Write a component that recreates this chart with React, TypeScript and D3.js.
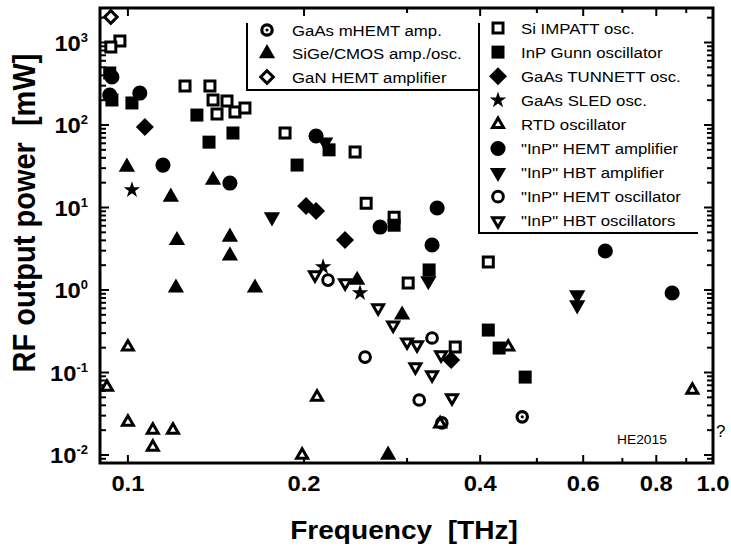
import React from "react";
import * as d3 from "d3";

const W = 731;
const H = 546;

// [frequency THz, power mW]
const gaasMhemtAmp = [[0.344, 0.0245], [0.472, 0.029]];
const sigeCmos = [[0.0996, 31], [0.1184, 13.4], [0.1213, 4.0], [0.1208, 1.06], [0.1398, 21.5], [0.1494, 4.4], [0.1494, 2.6], [0.1649, 1.06], [0.2465, 1.32], [0.2942, 0.5], [0.2784, 0.01]];
const ganHemtAmp = [[0.0935, 2040]];
const siImpatt = [[0.0969, 1043], [0.0935, 882], [0.1252, 297], [0.1381, 297], [0.1398, 201], [0.1477, 195], [0.142, 136], [0.1524, 144], [0.1585, 161], [0.1856, 80], [0.2445, 47], [0.2554, 11.3], [0.2851, 7.6], [0.3013, 1.22], [0.3626, 0.204], [0.413, 2.18]];
const inpGunn = [[0.0931, 427], [0.0939, 201], [0.1016, 185], [0.1312, 132], [0.1376, 62], [0.1512, 80], [0.1946, 32.7], [0.2207, 50], [0.2851, 6.1], [0.3272, 1.75], [0.413, 0.327], [0.431, 0.198], [0.4775, 0.088]];
const gaasTunnett = [[0.1069, 94.6], [0.2016, 10.4], [0.2097, 9.1], [0.235, 4.04], [0.3569, 0.142]];
const gaasSled = [[0.1016, 16.3], [0.2156, 1.9], [0.2493, 0.92]];
const rtdOsc = [[0.0921, 0.0667], [0.1, 0.204], [0.1, 0.0251], [0.1103, 0.0201], [0.1103, 0.0125], [0.1194, 0.0201], [0.1985, 0.01], [0.2105, 0.0505], [0.3417, 0.0238], [0.4467, 0.204], [0.922, 0.0614]];
const inpHemtAmp = [[0.0939, 382], [0.0931, 231], [0.1048, 244], [0.1148, 32.7], [0.1494, 19.8], [0.2097, 73.6], [0.2698, 5.8], [0.3377, 9.86], [0.331, 3.51], [0.6545, 2.97], [0.8515, 0.92]];
const inpHbtAmp = [[0.1763, 7.67], [0.2173, 62], [0.3262, 1.29], [0.586, 0.87], [0.586, 0.658]];
const inpHemtOsc = [[0.2198, 1.32], [0.2543, 0.154], [0.331, 0.262], [0.3147, 0.0464]];
const inpHbtOsc = [[0.2088, 1.52], [0.2351, 1.22], [0.2677, 0.605], [0.284, 0.376], [0.3, 0.234], [0.312, 0.216], [0.31, 0.117], [0.331, 0.0933], [0.343, 0.163], [0.358, 0.0491]];

const legendLeft = ["GaAs mHEMT amp.", "SiGe/CMOS amp./osc.", "GaN HEMT amplifier"];
const legendRight = ["Si IMPATT osc.", "InP Gunn oscillator", "GaAs TUNNETT osc.", "GaAs SLED osc.", "RTD oscillator", "\"InP\" HEMT amplifier", "\"InP\" HBT amplifier", "\"InP\" HEMT oscillator", "\"InP\" HBT oscillators"];

const xTicksMajor = [0.1, 0.2, 0.4, 0.6, 0.8, 1.0];
const xTickLabels = ["0.1", "0.2", "0.4", "0.6", "0.8", "1.0"];
const xTicksMinor = [0.3, 0.5, 0.7, 0.9];
const yExponents = [-2, -1, 0, 1, 2, 3];

const series = [
  { name: legendLeft[0], data: gaasMhemtAmp, kind: "bullseye" },
  { name: legendLeft[1], data: sigeCmos, kind: "triangle" },
  { name: legendLeft[2], data: ganHemtAmp, kind: "openDiamond" },
  { name: legendRight[0], data: siImpatt, kind: "openSquare" },
  { name: legendRight[1], data: inpGunn, kind: "square" },
  { name: legendRight[2], data: gaasTunnett, kind: "diamond" },
  { name: legendRight[3], data: gaasSled, kind: "star" },
  { name: legendRight[4], data: rtdOsc, kind: "openTriangle" },
  { name: legendRight[5], data: inpHemtAmp, kind: "circle" },
  { name: legendRight[6], data: inpHbtAmp, kind: "down" },
  { name: legendRight[7], data: inpHemtOsc, kind: "openCircle" },
  { name: legendRight[8], data: inpHbtOsc, kind: "openDown" },
];

const diamond = (r: number) => `M0,${-r}L${r},0L0,${r}L${-r},0Z`;

function Marker({ kind, x, y }: { kind: string; x: number; y: number }) {
  const t = `translate(${x},${y})`;
  const open = { fill: "#fff", stroke: "#000", strokeWidth: 3 };
  switch (kind) {
    case "square":
      return <path transform={t} d={d3.symbol(d3.symbolSquare, 169)()!} fill="#000" />;
    case "openSquare":
      return <path transform={t} d={d3.symbol(d3.symbolSquare, 100)()!} {...open} />;
    case "circle":
      return <path transform={t} d={d3.symbol(d3.symbolCircle, 180)()!} fill="#000" />;
    case "openCircle":
      return <path transform={t} d={d3.symbol(d3.symbolCircle, 90)()!} {...open} />;
    case "bullseye":
      return (
        <g transform={t}>
          <circle r={5.2} {...open} strokeWidth={3.2} />
          <circle r={1.6} fill="#000" />
        </g>
      );
    case "triangle":
      return <path transform={t} d={d3.symbol(d3.symbolTriangle, 115)()!} fill="#000" />;
    case "openTriangle":
      return <path transform={t} d={d3.symbol(d3.symbolTriangle, 52)()!} {...open} />;
    case "down":
      return <path transform={`${t} rotate(180)`} d={d3.symbol(d3.symbolTriangle, 115)()!} fill="#000" />;
    case "openDown":
      return <path transform={`${t} rotate(180)`} d={d3.symbol(d3.symbolTriangle, 52)()!} {...open} />;
    case "diamond":
      return <path transform={t} d={diamond(9)} fill="#000" />;
    case "openDiamond":
      return <path transform={t} d={diamond(6.3)} {...open} />;
    case "star":
      return <path transform={t} d={d3.symbol(d3.symbolStar, 85)()!} fill="#000" />;
  }
  return null;
}

export default function App() {
  const x = d3.scaleLog().domain([0.0896, 1.0]).range([100, 713]);
  const y = d3.scaleLog().domain([0.008, 2620]).range([463, 8]);
  const [x0, x1] = x.range();
  const [y0, y1] = y.range();

  const yMinor: number[] = [];
  for (let e = -3; e <= 3; e++) {
    for (let m = 2; m <= 9; m++) {
      const v = m * Math.pow(10, e);
      if (v > 0.008 && v < 2620) yMinor.push(v);
    }
  }
  const font = "'Liberation Sans', Arial, Helvetica, sans-serif";
  const tickW = 2;

  return (
    <svg width={W} height={H} style={{ position: "absolute", left: 0, top: 0, background: "#fff" }} fontFamily={font}>
      <rect width={W} height={H} fill="#fff" />
      {/* x ticks, bottom and top */}
      {xTicksMajor.map((v) => (
        <g key={"xM" + v} stroke="#000" strokeWidth={tickW}>
          <line x1={x(v)} x2={x(v)} y1={y0} y2={y0 - 8} />
          <line x1={x(v)} x2={x(v)} y1={y1} y2={y1 + 8} />
        </g>
      ))}
      {xTicksMinor.map((v) => (
        <g key={"xm" + v} stroke="#000" strokeWidth={tickW}>
          <line x1={x(v)} x2={x(v)} y1={y0} y2={y0 - 5} />
          <line x1={x(v)} x2={x(v)} y1={y1} y2={y1 + 5} />
        </g>
      ))}
      {yExponents.map((e) => (
        <g key={"yM" + e} stroke="#000" strokeWidth={tickW}>
          <line x1={x0} x2={x0 + 9} y1={y(Math.pow(10, e))} y2={y(Math.pow(10, e))} />
          <line x1={x1} x2={x1 - 9} y1={y(Math.pow(10, e))} y2={y(Math.pow(10, e))} />
        </g>
      ))}
      {yMinor.map((v) => (
        <g key={"ym" + v} stroke="#000" strokeWidth={tickW}>
          <line x1={x0} x2={x0 + 6} y1={y(v)} y2={y(v)} />
          <line x1={x1} x2={x1 - 6} y1={y(v)} y2={y(v)} />
        </g>
      ))}

      {/* legend boxes */}
      <path d="M247,23V90H479" fill="none" stroke="#000" strokeWidth={2} />
      <path d="M479,23V233H698" fill="none" stroke="#000" strokeWidth={2} />

      {/* data */}
      {series.map((s) =>
        s.data.map((d, i) => <Marker key={s.name + i} kind={s.kind} x={x(d[0])} y={y(d[1])} />)
      )}

      {/* legend entries */}
      {series.slice(0, 3).map((s, i) => (
        <g key={"ll" + i}>
          <Marker kind={s.kind} x={267} y={30 + i * 23.5} />
          <text transform={`translate(292,${35.5 + i * 23.5}) scale(1.12,1)`} fontSize={15} fill="#000">{s.name}</text>
        </g>
      ))}
      {series.slice(3).map((s, i) => (
        <g key={"lr" + i}>
          <Marker kind={s.kind} x={498} y={28 + i * 24.1} />
          <text transform={`translate(521,${33.5 + i * 24.1}) scale(1.12,1)`} fontSize={15} fill="#000">{s.name}</text>
        </g>
      ))}

      {/* frame */}
      <rect x={x0} y={y1} width={x1 - x0} height={y0 - y1} fill="none" stroke="#000" strokeWidth={3} />

      {/* tick labels */}
      {xTicksMajor.map((v, i) => (
        <text key={"xl" + v} transform={`translate(${x(v)},491) scale(1.08,1)`} textAnchor="middle" fontSize={22} fontWeight="bold">{xTickLabels[i]}</text>
      ))}
      {yExponents.map((e) => (
        <text key={"yl" + e} transform={`translate(88,${y(Math.pow(10, e)) + 8}) scale(1.08,1)`} textAnchor="end" fontSize={22} fontWeight="bold">
          <tspan>10</tspan>
          <tspan dy={-9} fontSize={12}>{e}</tspan>
        </text>
      ))}

      {/* axis titles */}
      <text transform="translate(404,539) scale(1.08,1)" textAnchor="middle" fontSize={26} fontWeight="bold" style={{ whiteSpace: "pre" }}>{"Frequency  [THz]"}</text>
      <text transform="translate(35,213) scale(1.08,1) rotate(-90)" textAnchor="middle" fontSize={29} fontWeight="bold" style={{ whiteSpace: "pre" }}>{"RF output power  [mW]"}</text>

      <text transform="translate(617,444) scale(1.15,1)" fontSize={12} fill="#000">HE2015</text>
      <text x={716} y={437} fontSize={17}>?</text>
    </svg>
  );
}
